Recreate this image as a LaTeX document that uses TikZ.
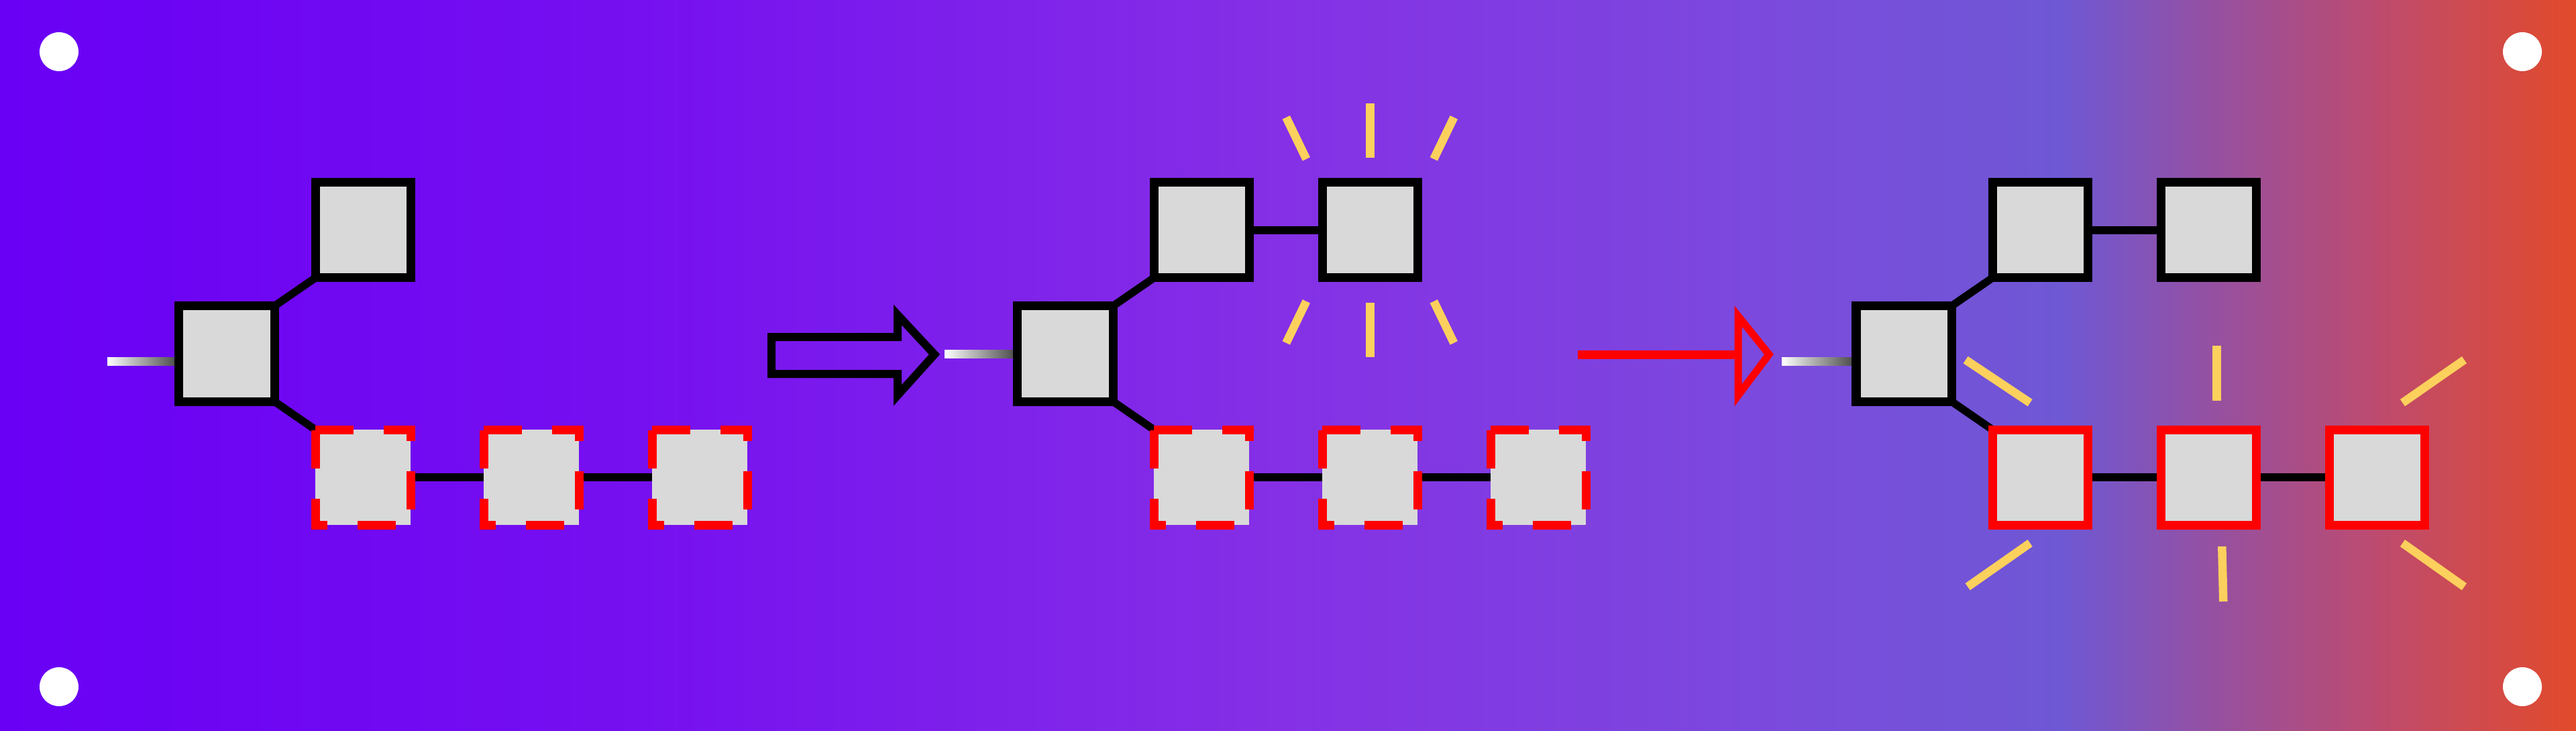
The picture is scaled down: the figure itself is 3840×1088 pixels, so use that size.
\documentclass[tikz,border=0pt]{standalone}
\usetikzlibrary{positioning}

\definecolor{bgA}{RGB}{105,0,245}
\definecolor{bgB}{RGB}{118,16,240}
\definecolor{bgC}{RGB}{133,48,230}
\definecolor{bgD}{RGB}{122,76,220}
\definecolor{bgE}{RGB}{110,88,212}
\definecolor{bgF}{RGB}{150,80,160}
\definecolor{bgG}{RGB}{190,75,110}
\definecolor{bgH}{RGB}{226,74,42}
\definecolor{boxgrey}{RGB}{217,217,217}
\definecolor{spark}{RGB}{252,208,92}

\pgfdeclarehorizontalshading{bgshade}{100bp}{color(0bp)=(bgA); color(25bp)=(bgA);
  color(37.5bp)=(bgB); color(50bp)=(bgC); color(60bp)=(bgD); color(65bp)=(bgE);
  color(68bp)=(bgF); color(71.2bp)=(bgG); color(75bp)=(bgH); color(100bp)=(bgH)}

\pgfdeclarelayer{bg}
\pgfdeclarelayer{links}
\pgfsetlayers{bg,links,main}

\tikzset{
  blk/.style={draw=black, fill=boxgrey, line width=0.13cm, minimum size=1.42cm,
              inner sep=0pt, outer sep=0pt},
  pend/.style={fill=boxgrey, minimum size=1.42cm, inner sep=0pt, outer sep=0pt},
  pendline/.style={draw=red, line width=0.13cm, dash pattern=on 0.57cm off 0.45cm},
  okbox/.style={blk, draw=red},
  link/.style={line width=0.115cm},
  sparkle/.style={draw=spark, line width=0.125cm},
  stub/.style={left color=white, right color=black!75},
}

\begin{document}
\begin{tikzpicture}[x=0.01cm,y=-0.01cm,node distance=1.84cm and 2.03cm,on grid]
    \begin{pgfonlayer}{bg}
        \shade[shading=bgshade] (0,0) rectangle (3840,1088);
        \foreach \p in {(88,77),(3760,77),(88,1023),(3760,1023)}
            \fill[white] \p circle [radius=0.29cm];
    \end{pgfonlayer}

    % before
    \node[blk] (r1) at (338,527) {};
    \node[blk,above right=of r1] (u1) {};
    \node[pend,below right=of r1] (a1) {};
    \node[pend,right=2.51cm of a1] (b1) {};
    \node[pend,right=2.51cm of b1] (c1) {};

    % during
    \node[blk] (r2) at (1588,527) {};
    \node[blk,above right=of r2] (u2) {};
    \node[blk,right=2.51cm of u2] (v2) {};
    \node[pend,below right=of r2] (a2) {};
    \node[pend,right=2.51cm of a2] (b2) {};
    \node[pend,right=2.51cm of b2] (c2) {};

    % after
    \node[blk] (r3) at (2838,527) {};
    \node[blk,above right=of r3] (u3) {};
    \node[blk,right=2.51cm of u3] (v3) {};
    \node[okbox,below right=of r3] (a3) {};
    \node[okbox,right=2.51cm of a3] (b3) {};
    \node[okbox,right=2.51cm of b3] (c3) {};

    \begin{pgfonlayer}{links}
        \shade[stub] ([shift={(-178,5)}]r1.center) rectangle ([shift={(-68,17)}]r1.center);
        \shade[stub] ([shift={(-180,-6)}]r2.center) rectangle ([shift={(-68,6)}]r2.center);
        \shade[stub] ([shift={(-182,5)}]r3.center) rectangle ([shift={(-68,17)}]r3.center);
        \draw[link] (r1.north east) -- (u1.south west);
        \draw[link] (r1.south east) -- (a1.north west);
        \draw[link] (a1) -- (b1) -- (c1);
        \draw[link] (r2.north east) -- (u2.south west);
        \draw[link] (r2.south east) -- (a2.north west);
        \draw[link] (u2) -- (v2);
        \draw[link] (a2) -- (b2) -- (c2);
        \draw[link] (r3.north east) -- (u3.south west);
        \draw[link] (r3.south east) -- (a3.north west);
        \draw[link] (u3) -- (v3);
        \draw[link] (a3) -- (b3) -- (c3);
    \end{pgfonlayer}

    \foreach \n in {a1,b1,c1,a2,b2,c2}
        \draw[pendline] (\n.north west) -- (\n.north east)
                     -- (\n.south east) -- (\n.south west) -- cycle;

    % hollow arrow
    \draw[line width=0.12cm] (1150,502) -- (1338,502) -- (1338,469) -- (1393,528)
                          -- (1338,589) -- (1338,557) -- (1150,557) -- cycle;

    % red arrow
    \coordinate (go) at (2352,528);
    \coordinate (hd) at (2591,528);
    \draw[red,line width=0.13cm] (go) -- (hd);
    \draw[red,line width=0.11cm] ([shift={(0,-57)}]hd) -- ([shift={(46,0)}]hd)
                                 -- ([shift={(0,61)}]hd) -- cycle;

    % sparkles
    \foreach \s in {-1,1} {
        \draw[sparkle] ([shift={(0,\s*108)}]v2.center) -- ([shift={(0,\s*189)}]v2.center);
        \foreach \h in {-1,1}
            \draw[sparkle] ([shift={(\h*95,\s*106)}]v2.center)
                        -- ([shift={(\h*125,\s*168)}]v2.center);
    }
    \draw[sparkle] ([shift={(-111,-175)}]a3.center) -- ([shift={(-15,-111)}]a3.center);
    \draw[sparkle] ([shift={(-15,98)}]a3.center) -- ([shift={(-108,163)}]a3.center);
    \draw[sparkle] ([shift={(12,-196)}]b3.center) -- ([shift={(12,-114)}]b3.center);
    \draw[sparkle] ([shift={(20,103)}]b3.center) -- ([shift={(22,185)}]b3.center);
    \draw[sparkle] ([shift={(38,-111)}]c3.center) -- ([shift={(130,-175)}]c3.center);
    \draw[sparkle] ([shift={(38,98)}]c3.center) -- ([shift={(130,163)}]c3.center);
\end{tikzpicture}
\end{document}
